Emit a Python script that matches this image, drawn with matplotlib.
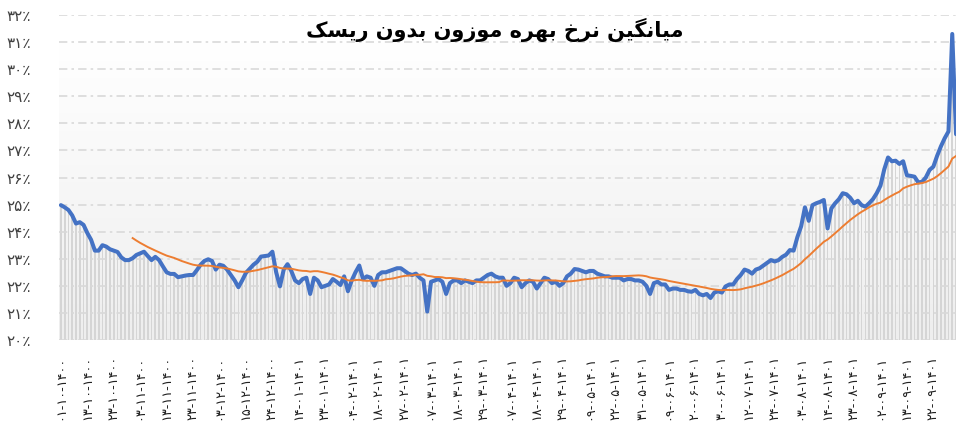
import numpy as np
import pandas as pd
import matplotlib.pyplot as plt
from matplotlib.colors import LinearSegmentedColormap

#Data
title = 'میانگین نرخ بهره موزون بدون ریسک'

date_labels = ['۰۱-۱۰-۱۴۰۰', '۱۳-۱۰-۱۴۰۰', '۲۳-۱۰-۱۴۰۰', '۰۳-۱۱-۱۴۰۰', '۱۳-۱۱-۱۴۰۰',
               '۲۳-۱۱-۱۴۰۰', '۰۳-۱۲-۱۴۰۰', '۱۵-۱۲-۱۴۰۰', '۲۴-۱۲-۱۴۰۰', '۱۴-۰۱-۱۴۰۱',
               '۲۳-۰۱-۱۴۰۱', '۰۴-۰۲-۱۴۰۱', '۱۸-۰۲-۱۴۰۱', '۲۷-۰۲-۱۴۰۱', '۰۷-۰۳-۱۴۰۱',
               '۱۸-۰۳-۱۴۰۱', '۲۹-۰۳-۱۴۰۱', '۰۷-۰۴-۱۴۰۱', '۱۸-۰۴-۱۴۰۱', '۲۹-۰۴-۱۴۰۱',
               '۰۹-۰۵-۱۴۰۱', '۲۲-۰۵-۱۴۰۱', '۳۱-۰۵-۱۴۰۱', '۰۹-۰۶-۱۴۰۱', '۲۰-۰۶-۱۴۰۱',
               '۳۰-۰۶-۱۴۰۱', '۱۲-۰۷-۱۴۰۱', '۲۴-۰۷-۱۴۰۱', '۰۳-۰۸-۱۴۰۱', '۱۴-۰۸-۱۴۰۱',
               '۲۳-۰۸-۱۴۰۱', '۰۲-۰۹-۱۴۰۱', '۱۳-۰۹-۱۴۰۱', '۲۲-۰۹-۱۴۰۱']
label_step = 7

#weighted risk free rate, percent, one value per trading day
rate = [24.98, 24.9, 24.8, 24.6, 24.3, 24.35, 24.25, 23.95, 23.7, 23.3,
        23.3, 23.5, 23.45, 23.35, 23.3, 23.25, 23.05, 22.95, 22.95, 23.02,
        23.14, 23.2, 23.26, 23.1, 22.95, 23.07, 22.95, 22.72, 22.5, 22.44,
        22.44, 22.32, 22.35, 22.38, 22.4, 22.4, 22.58, 22.78, 22.92, 22.98,
        22.92, 22.6, 22.78, 22.74, 22.6, 22.4, 22.2, 21.95, 22.2, 22.48,
        22.63, 22.78, 22.89, 23.08, 23.1, 23.12, 23.26, 22.5, 21.98, 22.6,
        22.8, 22.55, 22.2, 22.1, 22.25, 22.3, 21.7, 22.3, 22.2, 21.95,
        22.0, 22.05, 22.25, 22.15, 22.03, 22.35, 21.8, 22.2, 22.5, 22.75,
        22.25, 22.35, 22.3, 22.0, 22.4, 22.5, 22.5, 22.55, 22.6, 22.65,
        22.65, 22.55, 22.45, 22.4, 22.45, 22.3, 22.2, 21.05, 22.15, 22.2,
        22.25, 22.15, 21.7, 22.1, 22.2, 22.2, 22.1, 22.2, 22.15, 22.1,
        22.2, 22.2, 22.3, 22.4, 22.45, 22.35, 22.3, 22.3, 22.0, 22.1,
        22.3, 22.25, 21.95, 22.1, 22.2, 22.15, 21.9, 22.1, 22.3, 22.25,
        22.1, 22.15, 22.0, 22.1, 22.35, 22.45, 22.62, 22.6, 22.55, 22.5,
        22.55, 22.55, 22.45, 22.4, 22.35, 22.35, 22.3, 22.3, 22.3, 22.2,
        22.25, 22.25, 22.2, 22.2, 22.15, 22.0, 21.7, 22.1, 22.15, 22.05,
        22.05, 21.85, 21.9, 21.9, 21.85, 21.85, 21.8, 21.78, 21.85, 21.7,
        21.65, 21.7, 21.55, 21.75, 21.8, 21.75, 21.98, 22.05, 22.05, 22.25,
        22.4, 22.6, 22.55, 22.45, 22.6, 22.65, 22.75, 22.85, 22.95, 22.9,
        22.95, 23.07, 23.15, 23.32, 23.3, 23.8, 24.2, 24.9, 24.4, 24.98,
        25.05, 25.1, 25.17, 24.12, 24.86, 25.05, 25.2, 25.42, 25.38, 25.25,
        25.05, 25.14, 24.98, 24.92, 25.05, 25.2, 25.42, 25.7, 26.3, 26.74,
        26.6, 26.62, 26.5, 26.6, 26.08, 26.06, 26.03, 25.82, 25.84, 26.0,
        26.28, 26.4, 26.8, 27.15, 27.45, 27.7, 31.3, 27.6]
ma_window = 20

y_ticks = list(range(20, 33))

#Persian digits and letter shaping (matplotlib has no shaping of its own)
fa_digits = '۰۱۲۳۴۵۶۷۸۹'
def fa_num(n):
    return ''.join(fa_digits[int(d)] for d in str(n))

forms = {
    'ا': ('\uFE8D', '\uFE8E', '\uFE8D', '\uFE8E'),
    'ب': ('\uFE8F', '\uFE90', '\uFE91', '\uFE92'),
    'خ': ('\uFEA5', '\uFEA6', '\uFEA7', '\uFEA8'),
    'د': ('\uFEA9', '\uFEAA', '\uFEA9', '\uFEAA'),
    'ر': ('\uFEAD', '\uFEAE', '\uFEAD', '\uFEAE'),
    'ز': ('\uFEAF', '\uFEB0', '\uFEAF', '\uFEB0'),
    'س': ('\uFEB1', '\uFEB2', '\uFEB3', '\uFEB4'),
    'م': ('\uFEE1', '\uFEE2', '\uFEE3', '\uFEE4'),
    'ن': ('\uFEE5', '\uFEE6', '\uFEE7', '\uFEE8'),
    'ه': ('\uFEE9', '\uFEEA', '\uFEEB', '\uFEEC'),
    'و': ('\uFEED', '\uFEEE', '\uFEED', '\uFEEE'),
    'ی': ('\uFBFC', '\uFBFD', '\uFBFE', '\uFBFF'),
    'گ': ('\uFB92', '\uFB93', '\uFB94', '\uFB95'),
    'ک': ('\uFB8E', '\uFB8F', '\uFB90', '\uFB91'),
}
right_only = 'ادذرزژو'

def shape(text):
    out = []
    for k, c in enumerate(text):
        if c not in forms:
            out.append(c)
            continue
        prev = text[k-1] if k > 0 else ' '
        nxt = text[k+1] if k+1 < len(text) else ' '
        jp = prev in forms and prev not in right_only
        jn = nxt in forms and c not in right_only
        iso, fin, ini, med = forms[c]
        if jp and jn:
            out.append(med)
        elif jp:
            out.append(fin)
        elif jn:
            out.append(ini)
        else:
            out.append(iso)
    return ''.join(out)[::-1]

plt.rcParams['font.family'] = ['DejaVu Sans']

n = len(rate)
x = np.arange(n)
s = pd.Series(rate)
ma = s.rolling(ma_window).mean()

fig = plt.figure(figsize=(9.56, 4.33), dpi=100)
ax = fig.add_axes([59/956, (433-340)/433, 1 - 59/956 + 0.002, 325/433])
ax.set_xlim(-0.5, n - 0.5)
ax.set_ylim(20, 32)

#light gradient behind the plot
cmap = LinearSegmentedColormap.from_list('bg', ['#eeeeee', '#ffffff'])
grad = np.linspace(0, 1, 100).reshape(-1, 1)
ax.imshow(grad, extent=[-0.5, n - 0.5, 20, 31], origin='lower', aspect='auto',
          cmap=cmap, zorder=0)

#grey columns under the line
ax.bar(x, s - 20, bottom=20, width=0.45, color='#d5d5d5', zorder=1)

for v in y_ticks:
    ax.axhline(v, color='#d9d9d9', lw=1.2, ls=(0, (5, 2.5, 1.5, 2.5)), zorder=2)

ax.plot(x, s, color='#4472C4', lw=2.9, solid_capstyle='round', zorder=4)
ax.plot(x, ma, color='#ED7D31', lw=1.4, zorder=5)

ax.set_yticks(y_ticks)
ax.set_yticklabels([fa_num(v) + '٪' for v in y_ticks], fontsize=11, color='#404040')
ax.set_xticks(x[::label_step][:len(date_labels)])
ax.set_xticklabels(date_labels, rotation=90, fontsize=9.3, color='#202020')
ax.tick_params(axis='both', length=0)
ax.tick_params(axis='y', pad=20)
ax.tick_params(axis='x', pad=11)
for sp in ax.spines.values():
    sp.set_visible(False)

fig.text(495/956, 1 - 30/433, shape(title), ha='center', va='center',
         fontsize=15, fontweight='bold', color='black')

fig.savefig('out.png', dpi=100)
